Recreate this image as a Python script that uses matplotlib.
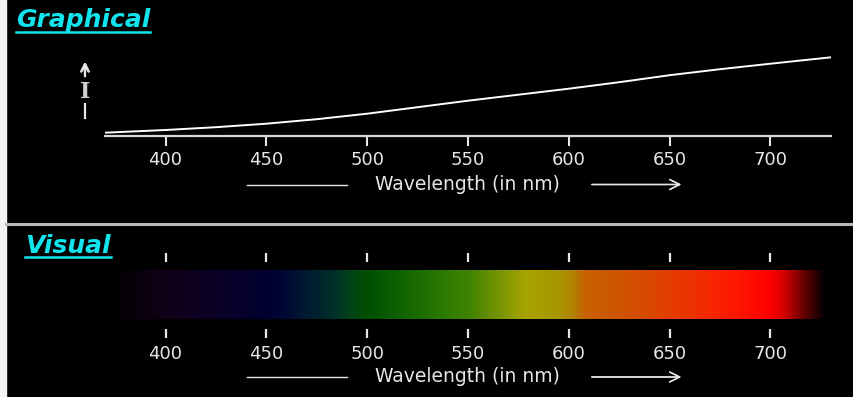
import numpy as np
import matplotlib.pyplot as plt
from matplotlib.colors import LinearSegmentedColormap
from matplotlib.lines import Line2D
from matplotlib.patches import Rectangle

# Intensity curve (arbitrary units)
wl_curve = [370, 400, 425, 450, 475, 500, 525, 550, 575, 600, 625, 650, 675, 700, 730]
intensity = [3, 5.7, 8.5, 12, 16.5, 22, 28.5, 35, 41, 47, 53.5, 60.5, 66.5, 72, 78.4]

# Colour stops of the visual spectrum band
spec_nm = [370, 380, 400, 433, 450, 460, 473, 483, 493, 500, 516, 536, 551, 562,
           579, 595, 602, 609, 622, 640, 665, 681, 701, 708, 715, 721, 728, 730]
spec_hex = ['#000000', '#050008', '#120018', '#08002a', '#000030', '#000a35', '#002030',
            '#00302a', '#004515', '#005000', '#0e6200', '#2a7800', '#408400', '#6a9000',
            '#a8a400', '#a89600', '#b08400', '#c86000', '#cc5800', '#d84800', '#f02e00',
            '#ff1a00', '#ff0000', '#d00000', '#800000', '#400000', '#000000', '#000000']

ticks = [400, 450, 500, 550, 600, 650, 700]
wl_min, wl_max = 370, 730

W, H = 854, 397
fig = plt.figure(figsize=(W / 100, H / 100), dpi=100, facecolor='black')


def fx(px):
    return px / W


def fy(py):
    return 1 - py / H


fig.patches.append(Rectangle((0, 0), fx(6), 1, transform=fig.transFigure,
                             color='#f2f2f2', zorder=0))

cyan = '#12e4ee'
light = '#e6e6e6'
fsize = 13

# ---- Graphical panel ----
ax1 = fig.add_axes([fx(105), fy(135.7), fx(831) - fx(105), fy(40) - fy(135.7)])
ax1.set_facecolor('black')
ax1.plot(wl_curve, intensity, color='white', lw=1.4)
ax1.set_xlim(wl_min, wl_max)
ax1.set_ylim(0, 95.7)
for s in ['top', 'left', 'right']:
    ax1.spines[s].set_visible(False)
ax1.spines['bottom'].set_color('#d8d8d8')
ax1.spines['bottom'].set_linewidth(1.6)
ax1.set_yticks([])
ax1.set_xticks(ticks)
ax1.tick_params(axis='x', colors=light, length=7.2, width=1.5, pad=3.5, labelsize=fsize)

# ---- Visual panel ----
ax2 = fig.add_axes([fx(105), fy(319), fx(831) - fx(105), fy(270) - fy(319)])
ax2.set_facecolor('black')
cmap = LinearSegmentedColormap.from_list(
    'spec', list(zip([(n - wl_min) / (wl_max - wl_min) for n in spec_nm], spec_hex)))
grid = np.linspace(wl_min, wl_max, 1440)[None, :]
ax2.imshow(grid, cmap=cmap, vmin=wl_min, vmax=wl_max, aspect='auto',
           extent=[wl_min, wl_max, 0, 1], interpolation='bilinear')
ax2.set_xlim(wl_min, wl_max)
ax2.set_ylim(0, 1)
for s in ['top', 'left', 'right', 'bottom']:
    ax2.spines[s].set_color('none')
ax2.spines['top'].set_position(('outward', 6))
ax2.spines['bottom'].set_position(('outward', 7.4))
ax2.set_yticks([])
ax2.set_xticks(ticks)
ax2.tick_params(axis='x', top=True, colors=light, length=6.5, width=1.6,
                pad=4.5, labelsize=fsize)

# ---- Wavelength labels with arrows ----
for yc in [184.5, 377]:
    fig.text(fx(467.5), fy(yc), 'Wavelength (in nm)', color=light, fontsize=fsize + 0.5,
             ha='center', va='center')
    fig.add_artist(Line2D([fx(247), fx(347)], [fy(yc), fy(yc)],
                          color=light, lw=1, transform=fig.transFigure))
    fig.add_artist(plt.annotate('', xy=(fx(684), fy(yc)), xytext=(fx(589), fy(yc)),
                                xycoords='figure fraction',
                                arrowprops=dict(arrowstyle='->', color=light, lw=1,
                                                mutation_scale=18)))

# ---- Y-axis "I" symbol ----
fig.add_artist(plt.annotate('', xy=(fx(85), fy(59)), xytext=(fx(85), fy(79)),
                            xycoords='figure fraction',
                            arrowprops=dict(arrowstyle='->', color=light, lw=1.6,
                                            mutation_scale=13)))
fig.text(fx(85), fy(91.5), 'I', color='#cfcfcf', fontsize=16, fontweight='bold',
         family='DejaVu Serif', ha='center', va='center')
fig.add_artist(Line2D([fx(85), fx(85)], [fy(104), fy(118)], color=light, lw=1.6,
                      transform=fig.transFigure))

# ---- Divider ----
fig.add_artist(Line2D([fx(6), 1], [fy(224), fy(224)], color='#b8b8b8', lw=2.2,
                      transform=fig.transFigure))

# ---- Section titles (underlined) ----
titles = []
titles.append((fig.text(fx(16), fy(27.3), 'Graphical', color=cyan, fontsize=18,
                        fontweight='bold', fontstyle='italic', va='baseline'), 31.7))
titles.append((fig.text(fx(25), fy(253), 'Visual', color=cyan, fontsize=18,
                        fontweight='bold', fontstyle='italic', va='baseline'), 257))
renderer = fig.canvas.get_renderer()
for t, uy in titles:
    bb = t.get_window_extent(renderer)
    fig.add_artist(Line2D([bb.x0 / W, bb.x1 / W], [fy(uy), fy(uy)], color=cyan, lw=1.8,
                          transform=fig.transFigure))

fig.savefig('out.png', dpi=100, facecolor='black')
